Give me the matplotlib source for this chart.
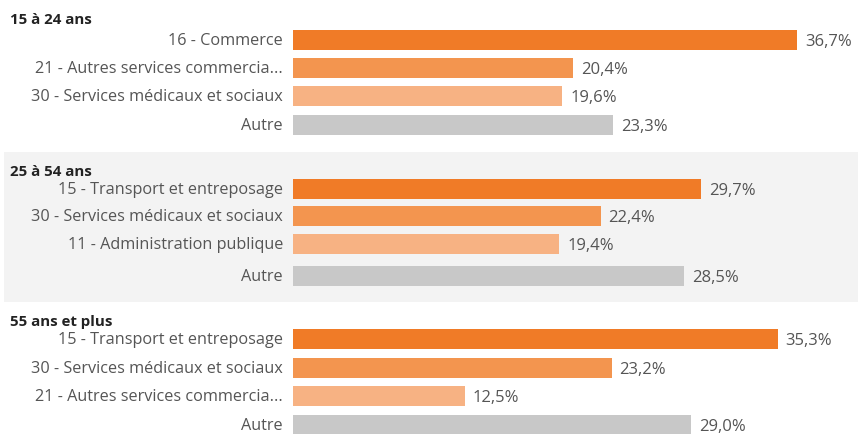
import matplotlib
matplotlib.use("Agg")
import matplotlib.pyplot as plt
from matplotlib.patches import Rectangle

# data
groups = ["15 à 24 ans", "25 à 54 ans", "55 ans et plus"]
labels_1 = ["16 - Commerce", "21 - Autres services commercia...",
            "30 - Services médicaux et sociaux", "Autre"]
labels_2 = ["15 - Transport et entreposage", "30 - Services médicaux et sociaux",
            "11 - Administration publique", "Autre"]
labels_3 = ["15 - Transport et entreposage", "30 - Services médicaux et sociaux",
            "21 - Autres services commercia...", "Autre"]
values_1 = [36.7, 20.4, 19.6, 23.3]
values_2 = [29.7, 22.4, 19.4, 28.5]
values_3 = [35.3, 23.2, 12.5, 29.0]

colors = ["#F07B27", "#F3954F", "#F7B283", "#C8C8C8"]

# layout (pixel rows, figure is 858x435)
W, H = 858, 435
bar_x0 = 293
px_per_pct = 13.73
header_y = [20, 172, 322]
row_y = [[41, 69, 97, 126], [190, 217, 245, 277], [340, 369, 397, 426]]

plt.rcParams['font.family'] = ['Open Sans', 'DejaVu Sans']

fig = plt.figure(figsize=(W / 100, H / 100), dpi=100)
fig.patch.set_facecolor("white")

# light gray band behind middle group
fig.add_artist(Rectangle((4 / W, 1 - 303 / H), (W - 4) / W, 150 / H,
                         transform=fig.transFigure, facecolor="#F3F3F3",
                         edgecolor="none", zorder=0))

ax = fig.add_axes([0, 0, 1, 1])
ax.set_facecolor("none")
ax.set_xlim(-bar_x0 / px_per_pct, (W - bar_x0) / px_per_pct)
ax.set_ylim(H, 0)
ax.axis("off")

all_labels = [labels_1, labels_2, labels_3]
all_values = [values_1, values_2, values_3]

for g, name in enumerate(groups):
    ax.text(-(bar_x0 - 10) / px_per_pct, header_y[g], name, fontsize=10.8,
            fontweight="bold", color="#222222", va="center", ha="left")
    ax.barh(row_y[g], all_values[g], height=20, left=0, color=colors)
    for y, lab, v in zip(row_y[g], all_labels[g], all_values[g]):
        ax.text(-10 / px_per_pct, y, lab, fontsize=11.7, color="#555555",
                va="center", ha="right")
        ax.text(v + 8 / px_per_pct, y + 1, f"{v:.1f}%".replace(".", ","),
                fontsize=12, color="#555555", va="center", ha="left")

fig.savefig("out.png", dpi=100)
